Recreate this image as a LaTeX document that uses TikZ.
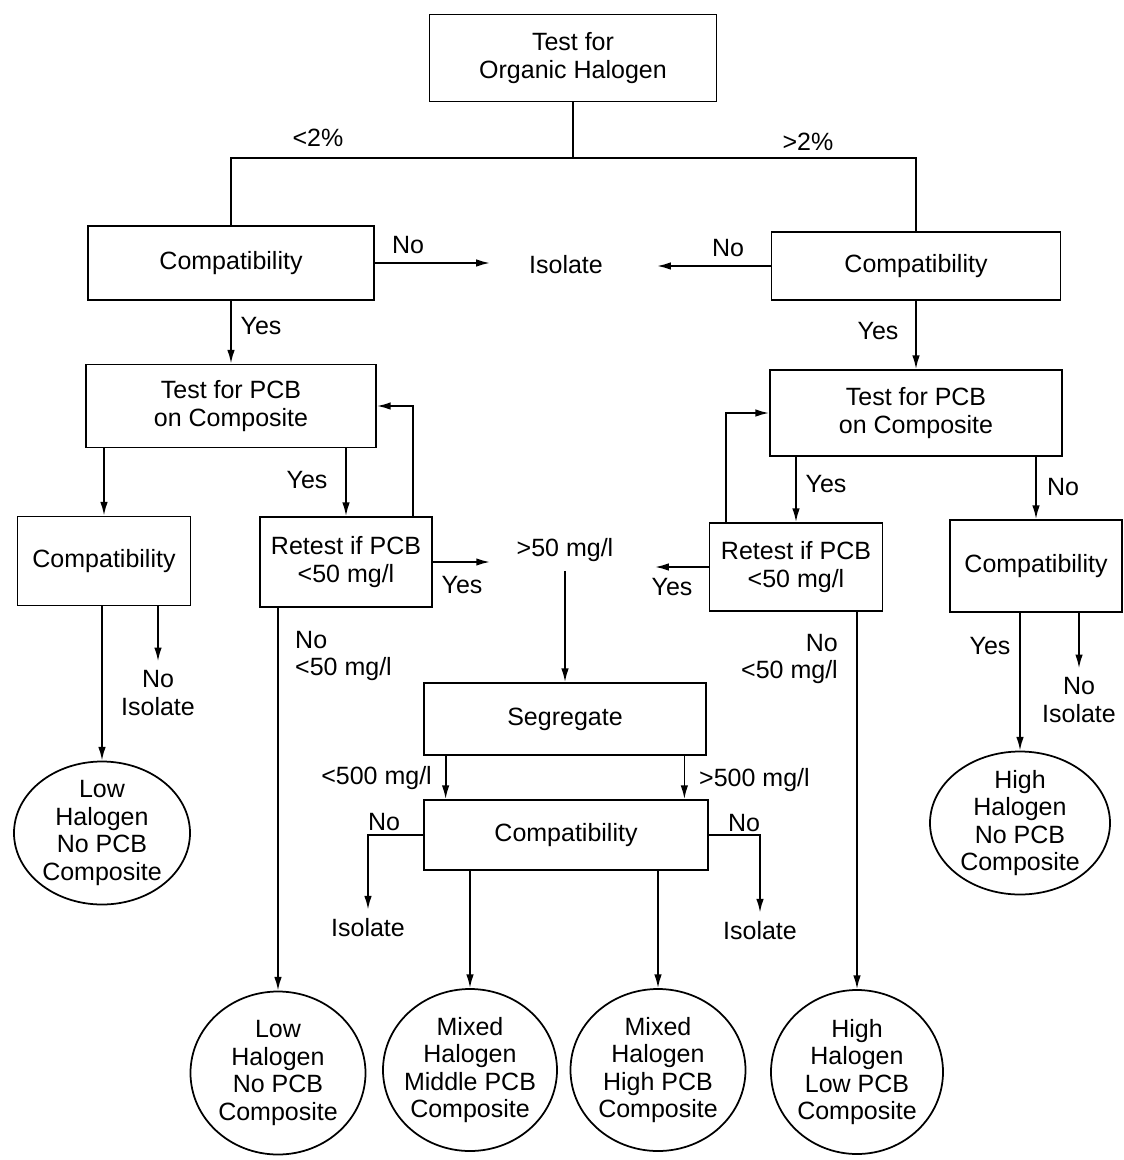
\documentclass[tikz,border=0pt]{standalone}
\usepackage{fontspec}
\setmainfont{Liberation Sans}
\usetikzlibrary{shapes.geometric, arrows.meta, positioning, calc}

\begin{document}
\begin{tikzpicture}[x=0.4pt,y=-0.4pt,line width=0.7pt,
    every node/.style={font=\fontsize{10}{11}\selectfont, align=center},
    box/.style 2 args={draw, minimum width=#1*0.4pt, minimum height=#2*0.4pt},
    oval/.style 2 args={draw, ellipse, inner xsep=-5pt, inner ysep=-1.5pt, minimum width=#1*0.4pt, minimum height=#2*0.4pt},
    arr/.style={-{Latex[length=5.5pt,width=3pt]}}]
  \useasboundingbox (0,0) rectangle (1124,1160);
  \node[box={287}{87}] (top) at (573,58) {Test for\\Organic Halogen};
  \coordinate (split) at (573,158);
  \node[box={286}{74}] (cL) at (231,263) {Compatibility};
  \node[box={289}{68}] (cR) at (916,266) {Compatibility};
  \node (iso) at (566,265) {Isolate};
  \node[box={290}{83}] (pL) at (231,406) {Test for PCB\\on Composite};
  \node[box={292}{86}] (pR) at (916,413) {Test for PCB\\on Composite};
  \node[box={173}{89}] (ccL) at (104,561) {Compatibility};
  \node[box={172}{90}] (rL) at (346,562) {Retest if PCB\\<50 mg/l};
  \node (gt50) at (565,550) {>50 mg/l};
  \node[box={173}{88}] (rR) at (796,567) {Retest if PCB\\<50 mg/l};
  \node[box={172}{92}] (ccR) at (1036,566) {Compatibility};
  \node (nIsoL) at (158,693) {No\\Isolate};
  \node (nIsoR) at (1079,700) {No\\Isolate};
  \node[box={282}{72}] (seg) at (565,719) {Segregate};
  \node[box={284}{70}] (cM) at (566,835) {Compatibility};
  \node (isoL) at (368,928) {Isolate};
  \node (isoR) at (760,931) {Isolate};
  \node[oval={176}{143}] (eLL) at (102,833) {Low\\Halogen\\No PCB\\Composite};
  \node[oval={180}{143}] (eRR) at (1020,823) {High\\Halogen\\No PCB\\Composite};
  \node[oval={175}{163}] (eB1) at (278,1073) {Low\\Halogen\\No PCB\\Composite};
  \node[oval={174}{162}] (eB2) at (470,1070) {Mixed\\Halogen\\Middle PCB\\Composite};
  \node[oval={175}{162}] (eB3) at (658,1070) {Mixed\\Halogen\\High PCB\\Composite};
  \node[oval={172}{164}] (eB4) at (857,1072) {High\\Halogen\\Low PCB\\Composite};

  \draw (top.south) -- (split);
  \draw (cL.north) |- (split) -| (cR.north);
  \draw[arr, shorten >=12pt] (cL.east) -- (cL.east -| iso.west);
  \draw[arr, shorten >=18pt] (cR.west) -- (cR.west -| iso.east);
  \draw[arr] (cL.south) -- (pL.north);
  \draw[arr] (cR.south) -- (pR.north);
  \draw[arr] (pL.south -| ccL.north) -- (ccL.north);
  \draw[arr] (pL.south -| rL.north) -- (rL.north);
  \draw[arr] ([xshift=-8pt]rL.north east) |- (pL.east);
  \draw[arr, shorten >=7pt] (rL.east) -- (rL.east -| gt50.west);
  \draw[arr] (gt50.south) -- (seg.north);
  \draw[arr] (pR.south -| rR.north) -- (rR.north);
  \draw[arr] ([xshift=7pt]rR.north west) |- (pR.west);
  \draw[arr, shorten >=13pt] (rR.west) -- (rR.west -| gt50.east);
  \draw[arr] (pR.south -| ccR.north) -- (ccR.north);
  \draw[arr] (ccR.south -| eRR.north) -- (eRR.north);
  \draw[arr] (ccR.south -| nIsoR.north) -- (nIsoR.north);
  \draw[arr] (ccL.south -| eLL.north) -- (eLL.north);
  \draw[arr] (ccL.south -| nIsoL.north) -- (nIsoL.north);
  \draw[arr] (rL.south -| eB1.north) -- (eB1.north);
  \draw[arr] (rR.south -| eB4.north) -- (eB4.north);
  \draw[arr] ([xshift=9pt]seg.south west) -- ([xshift=9pt]seg.south west |- cM.north);
  \draw[arr] ([xshift=-9pt]seg.south east) -- ([xshift=-9pt]seg.south east |- cM.north);
  \draw[arr] (cM.west) -| (isoL.north);
  \draw[arr] (cM.east) -| (isoR.north);
  \draw[arr] (cM.south -| eB2.north) -- (eB2.north);
  \draw[arr] (cM.south -| eB3.north) -- (eB3.north);

  \node (lt2) at (318,138) {<2\%};
  \node (gt2) at (808,142) {>2\%};
  \node (noIL) at (408,245) {No};
  \node (noIR) at (728,248) {No};
  \node (yesCL) at (261,326) {Yes};
  \node (yesCR) at (878,331) {Yes};
  \node (yesPL) at (307,480) {Yes};
  \node (yesPR) at (826,484) {Yes};
  \node (noPR) at (1063,487) {No};
  \node (yesRL) at (462,585) {Yes};
  \node (yesRR) at (672,587) {Yes};
  \node (yesCC) at (990,646) {Yes};
  \node[anchor=west, align=left] (noRL) at (286,656) {No\\<50 mg/l};
  \node[anchor=east, align=right] (noRR) at (847,659) {No\\<50 mg/l};
  \node[anchor=east] (lt500) at (441,778) {<500 mg/l};
  \node[anchor=west] (gt500) at (690,780) {>500 mg/l};
  \node (noML) at (384,822) {No};
  \node (noMR) at (744,823) {No};
\end{tikzpicture}
\end{document}
